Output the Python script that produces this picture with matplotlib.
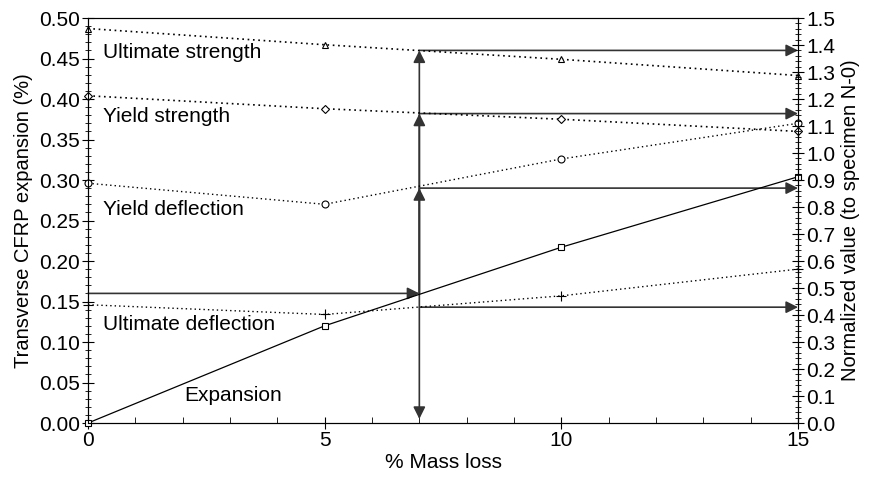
import matplotlib
matplotlib.use('Agg')
import matplotlib.pyplot as plt
from matplotlib.ticker import MultipleLocator

plt.rcParams['font.family'] = ['Liberation Sans', 'DejaVu Sans']

mass_loss = [0, 5, 10, 15]
expansion = [0.0, 0.120, 0.217, 0.304]
ult_strength = [0.487, 0.467, 0.449, 0.429]
yield_strength = [0.404, 0.388, 0.375, 0.360]
yield_deflection = [0.296, 0.270, 0.326, 0.370]
ult_deflection = [0.146, 0.134, 0.157, 0.190]

# arrows (left-axis units)
x_read = 7
exp_at_read = 0.160
read_levels = [0.460, 0.382, 0.290, 0.143]

fig = plt.figure(figsize=(8.73, 4.79), dpi=100)
ax = fig.add_axes([0.1008, 0.1169, 0.8133, 0.8455])

dot = (0, (1, 2.2))
mk = dict(mfc='white', mec='black', mew=0.8, ms=5)
ax.plot(mass_loss, expansion, '-', color='black', lw=0.9, marker='s', **mk, clip_on=False, zorder=5)
ax.plot(mass_loss, ult_strength, linestyle=dot, color='black', lw=1.2, marker='^', **mk, clip_on=False, zorder=5)
ax.plot(mass_loss, yield_strength, linestyle=dot, color='black', lw=1.2, marker='D', mfc='white', mec='black', mew=0.8, ms=4, clip_on=False, zorder=5)
ax.plot(mass_loss, yield_deflection, linestyle=dot, color='black', lw=1.0, marker='o', **mk, clip_on=False, zorder=5)
ax.plot(mass_loss, ult_deflection, linestyle=dot, color='black', lw=1.0, marker='+', mfc='white', mec='black', mew=0.8, ms=7, clip_on=False, zorder=5)

arrow = dict(arrowstyle='-|>', color='#333333', lw=1.2, mutation_scale=18, shrinkA=0, shrinkB=0)
ax.annotate('', xy=(x_read, exp_at_read), xytext=(0, exp_at_read), arrowprops=arrow)
ax.annotate('', xy=(x_read, 0.005), xytext=(x_read, exp_at_read), arrowprops=arrow)
for lv in read_levels[:3]:
    ax.annotate('', xy=(x_read, lv), xytext=(x_read, exp_at_read), arrowprops=arrow)
for lv in read_levels:
    ax.annotate('', xy=(15, lv), xytext=(x_read, lv), arrowprops=arrow)

fs = 15
ax.text(0.32, 0.458, 'Ultimate strength', fontsize=fs, va='center')
ax.text(0.32, 0.378, 'Yield strength', fontsize=fs, va='center')
ax.text(0.32, 0.264, 'Yield deflection', fontsize=fs, va='center')
ax.text(0.32, 0.122, 'Ultimate deflection', fontsize=fs, va='center')
ax.text(2.03, 0.034, 'Expansion', fontsize=fs, va='center')

ax.set_xlim(0, 15)
ax.set_ylim(0, 0.5)
ax.xaxis.set_major_locator(MultipleLocator(5))
ax.xaxis.set_minor_locator(MultipleLocator(1))
ax.yaxis.set_major_locator(MultipleLocator(0.05))
ax.yaxis.set_minor_locator(MultipleLocator(0.01))
ax.yaxis.set_major_formatter(plt.FuncFormatter(lambda v, p: f'{v:.2f}'))
ax.tick_params(axis='x', which='major', direction='inout', length=8, labelsize=fs, pad=2)
ax.tick_params(axis='x', which='minor', direction='in', length=4)
ax.tick_params(axis='y', which='major', direction='inout', length=8, labelsize=fs, pad=2)
ax.tick_params(axis='y', which='minor', direction='inout', length=4)
ax.spines['top'].set_color('#555555')
ax.set_xlabel('% Mass loss', fontsize=fs, labelpad=2)
ax.set_ylabel('Transverse CFRP expansion (%)', fontsize=14.5, labelpad=4)

ax2 = ax.twinx()
ax2.set_ylim(0, 1.5)
ax2.yaxis.set_major_locator(MultipleLocator(0.1))
ax2.yaxis.set_minor_locator(MultipleLocator(0.02))
ax2.yaxis.set_major_formatter(plt.FuncFormatter(lambda v, p: f'{v:.1f}'))
ax2.tick_params(axis='y', which='major', direction='inout', length=8, labelsize=fs, pad=2)
ax2.tick_params(axis='y', which='minor', direction='inout', length=4)
ax2.set_ylabel('Normalized value (to specimen N-0)', fontsize=14.5, labelpad=4)

fig.savefig('out.png', dpi=100)
